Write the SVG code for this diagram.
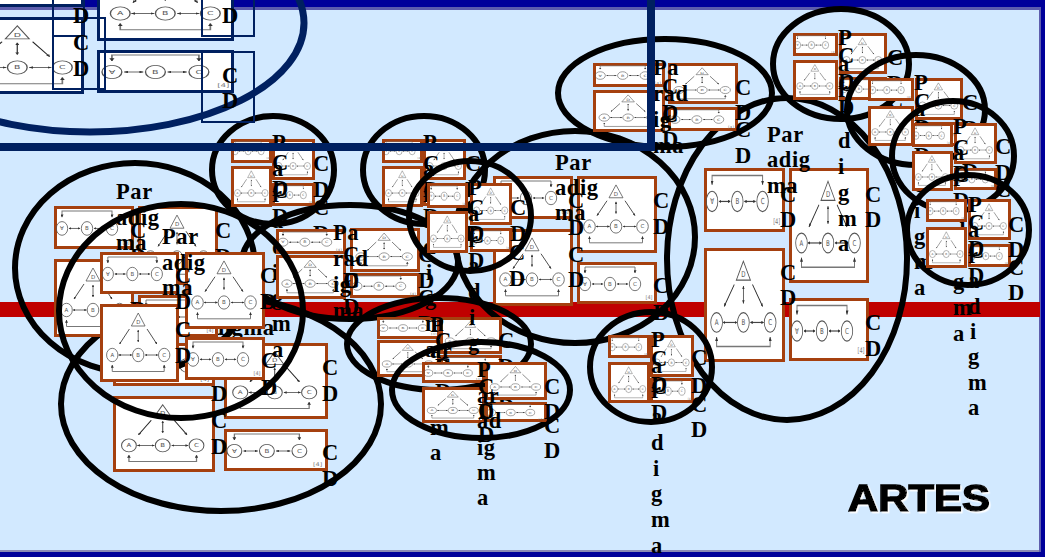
<svg xmlns="http://www.w3.org/2000/svg" width="1045" height="557" viewBox="0 0 1045 557">
<style>
.e{fill:none;stroke:#000;stroke-width:6}
.b{fill:#fff;stroke:#a5400f;stroke-width:3}
.n{fill:#fff;stroke:#002060;stroke-width:3}
.f{fill:none;stroke:#002060;stroke-width:2}
.t{font-family:"Liberation Serif",serif;font-weight:700;font-size:22.5px;letter-spacing:.6px;fill:#000}
.c{fill:none;stroke:#555;stroke-width:.8}
.a{fill:none;stroke:#444;stroke-width:.8;marker-start:url(#h);marker-end:url(#h)}
.o{fill:none;stroke:#222;stroke-width:.8;marker-end:url(#h)}
.g{fill:none;stroke:#777;stroke-width:1;marker-start:url(#h);marker-end:url(#h)}
.l{font-family:"DejaVu Sans",sans-serif;font-size:5.5px;fill:#555;text-anchor:middle}
.q{font-family:"DejaVu Sans",sans-serif;font-size:5px;fill:#777;text-anchor:middle}
.x{font-family:"Liberation Sans",sans-serif;font-weight:700;font-size:36px;fill:#000;stroke:#000;stroke-width:1.4px}
</style>
<defs>
<marker id="h" viewBox="0 0 6 6" refX="5.5" refY="3" markerWidth="3" markerHeight="3" orient="auto-start-reverse"><path d="M0,0L6,3L0,6z" fill="#333"/></marker>
<filter id="w" x="-5%" y="-10%" width="110%" height="125%"><feDropShadow dx="1.5" dy="1.5" stdDeviation="0" flood-color="#fff"/></filter>
<g id="tri">
<polygon class="c" points="39,9 32,22 46,22"/><text class="l" x="39" y="20">D</text>
<ellipse class="c" cx="12.5" cy="51" rx="5.8" ry="6.7"/><text class="l" x="12.5" y="53">A</text>
<ellipse class="c" cx="39" cy="51" rx="5.8" ry="6.7"/><text class="l" x="39" y="53">B</text>
<ellipse class="c" cx="65.5" cy="51" rx="5.8" ry="6.7"/><text class="l" x="65.5" y="53">C</text>
<path class="a" d="M19,51H32.500"/><path class="a" d="M46,51H59"/>
<path class="o" d="M30,25L20,40"/><path class="o" d="M48,25L58,40"/><path class="a" d="M39,26V38"/>
<path class="g" d="M12.500,61V67.500H65.500V61"/>
</g>
<g id="lin">
<ellipse class="c" cx="8" cy="22" rx="5.7" ry="6.7"/><text class="l" x="8" y="24">∀</text>
<ellipse class="c" cx="33" cy="22" rx="5.7" ry="6.7"/><text class="l" x="33" y="24">B</text>
<ellipse class="c" cx="58" cy="22" rx="5.7" ry="6.7"/><text class="l" x="58" y="24">C</text>
<path class="a" d="M15,22H26"/><path class="a" d="M40,22H51"/>
<path class="g" d="M8,11V5H58V11"/>
<text class="q" x="72" y="37">[4]</text>
</g>
</defs>

<rect width="1045" height="557" fill="#d2e9ff"/>
<rect y="7" width="1045" height="3" fill="#5d5dad"/>
<rect y="550" width="1045" height="2" fill="#8a8ab5"/>
<rect x="1039" y="7" width="2" height="545" fill="#5d5dad"/>
<path d="M0,0H1045V557H0V552H1041V7H0Z" fill="#00009a"/>
<rect id="band" x="0" y="302" width="1040" height="15" fill="#c00000"/>

<g id="connectors"></g>

<g id="cluster-3">
<ellipse class="e" cx="221" cy="404" rx="160" ry="107"/>
<text class="t" x="163" y="335">Paradigma</text>
<rect class="b" x="114.500" y="344.500" width="99" height="40"/><use href="#lin" transform="translate(113 343) scale(1.275 1.02)"/>
<rect class="b" x="114.500" y="397.500" width="99" height="73"/><use href="#tri" transform="translate(113 396) scale(1.275 .97)"/>
<rect class="b" x="225.500" y="344.500" width="101" height="73"/><use href="#tri" transform="translate(224 343) scale(1.3 .97)"/>
<rect class="b" x="225.500" y="430.500" width="101" height="39"/><use href="#lin" transform="translate(224 429) scale(1.3 1)"/>
<text class="t" x="211" y="375">C<tspan x="211" dy="26">D</tspan></text>
<text class="t" x="211" y="428">C<tspan x="211" dy="26">D</tspan></text>
<text class="t" x="322" y="375">C<tspan x="322" dy="26">D</tspan></text>
<text class="t" x="322" y="460">C<tspan x="322" dy="26">D</tspan></text>
</g>

<g id="cluster-1">
<ellipse class="e" cx="135" cy="268" rx="120" ry="105"/>
<rect class="b" x="55.500" y="207.500" width="77" height="40"/><use href="#lin" transform="translate(54 206) scale(1 1.02)"/>
<rect class="b" x="55.500" y="260.500" width="77" height="75"/><use href="#tri" transform="translate(54 259)"/>
<rect class="b" x="139.500" y="207.500" width="77" height="76"/><use href="#tri" transform="translate(138 206) scale(1 1.01)"/>
<rect class="b" x="139.500" y="296.500" width="77" height="39"/><use href="#lin" transform="translate(138 295)"/>
<text class="t" x="116" y="199">Par<tspan x="116" dy="26">adig</tspan><tspan x="116" dy="25">ma</tspan></text>
<text class="t" x="130" y="238">C<tspan x="130" dy="26">D</tspan></text>
<text class="t" x="130" y="291">C<tspan x="130" dy="26">D</tspan></text>
<text class="t" x="215" y="238">C<tspan x="215" dy="26">D</tspan></text>
<text class="t" x="215" y="327">C<tspan x="215" dy="26">D</tspan></text>
</g>

<g id="cluster-5">
<ellipse class="e" cx="273" cy="170" rx="61" ry="54"/>
<rect class="b" x="232.500" y="140.500" width="38" height="21"/><use href="#lin" transform="translate(231 139) scale(.52 .55)"/>
<rect class="b" x="232.500" y="167.500" width="38" height="38"/><use href="#tri" transform="translate(231 166) scale(.52 .53)"/>
<rect class="b" x="273.500" y="140.500" width="40" height="38"/><use href="#tri" transform="translate(272 139) scale(.54 .53)"/>
<rect class="b" x="273.500" y="184.500" width="40" height="20"/><use href="#lin" transform="translate(272 183) scale(.54 .55)"/>
<text class="t" x="272" y="150">P<tspan x="272" dy="25.900">a</tspan><tspan x="272" dy="25.900">r</tspan><tspan x="272" dy="25.900">a</tspan><tspan x="272" dy="25.900">d</tspan><tspan x="272" dy="25.900">i</tspan><tspan x="272" dy="25.900">g</tspan><tspan x="272" dy="25.900">m</tspan><tspan x="272" dy="25.900">a</tspan></text>
<text class="t" x="272" y="170">C<tspan x="272" dy="26">D</tspan></text>
<text class="t" x="272" y="198">C<tspan x="272" dy="26">D</tspan></text>
<text class="t" x="313" y="171">C<tspan x="313" dy="26">D</tspan></text>
<text class="t" x="313" y="215">C<tspan x="313" dy="26">D</tspan></text>
</g>

<g id="cluster-4">
<ellipse class="e" cx="350" cy="262" rx="108" ry="57"/>
<rect class="b" x="277.500" y="230.500" width="67" height="22"/><use href="#lin" transform="translate(276 229) scale(.875 .6)"/>
<rect class="b" x="277.500" y="256.500" width="67" height="41"/><use href="#tri" transform="translate(276 255) scale(.875 .56)"/>
<rect class="b" x="351.500" y="229.500" width="67" height="41"/><use href="#tri" transform="translate(350 228) scale(.875 .56)"/>
<rect class="b" x="351.500" y="274.500" width="67" height="22"/><use href="#lin" transform="translate(350 273) scale(.875 .6)"/>
<text class="t" x="333" y="240">Pa<tspan x="333" dy="26">rad</tspan><tspan x="333" dy="26">ig</tspan><tspan x="333" dy="26">ma</tspan></text>
<text class="t" x="343" y="262">C<tspan x="343" dy="26">D</tspan></text>
<text class="t" x="343" y="288">C<tspan x="343" dy="26">D</tspan></text>
<text class="t" x="418" y="262">C<tspan x="418" dy="26">D</tspan></text>
<text class="t" x="418" y="305">C<tspan x="418" dy="26">D</tspan></text>
</g>

<g id="cluster-2">
<ellipse class="e" cx="181" cy="311" rx="122" ry="107"/>
<rect class="b" x="101.500" y="253.500" width="76" height="39"/><use href="#lin" transform="translate(100 252) scale(.98 1)"/>
<rect class="b" x="101.500" y="305.500" width="76" height="75"/><use href="#tri" transform="translate(100 304) scale(.98 1)"/>
<rect class="b" x="186.500" y="253.500" width="77" height="74"/><use href="#tri" transform="translate(185 252) scale(1 .99)"/>
<rect class="b" x="186.500" y="338.500" width="77" height="40"/><use href="#lin" transform="translate(185 337) scale(1 1.02)"/>
<text class="t" x="162" y="244">Par<tspan x="162" dy="26">adig</tspan><tspan x="162" dy="25">ma</tspan></text>
<text class="t" x="175" y="283">C<tspan x="175" dy="26">D</tspan></text>
<text class="t" x="175" y="337">C<tspan x="175" dy="26">D</tspan></text>
<text class="t" x="260" y="283">C<tspan x="260" dy="26">D</tspan></text>
<text class="t" x="261" y="368">C<tspan x="261" dy="27">D</tspan></text>
</g>

<g id="cluster-12">
<ellipse class="e" cx="787" cy="259" rx="120" ry="161"/>
<rect class="b" x="705.500" y="169.500" width="78" height="61"/><use href="#lin" transform="translate(704 168) scale(1.01 1.52)"/>
<rect class="b" x="705.500" y="249.500" width="78" height="111"/><use href="#tri" transform="translate(704 248) scale(1.01 1.46)"/>
<rect class="b" x="790.500" y="169.500" width="77" height="112"/><use href="#tri" transform="translate(789 168) scale(1 1.47)"/>
<rect class="b" x="790.500" y="299.500" width="77" height="60"/><use href="#lin" transform="translate(789 298) scale(1 1.5)"/>
<text class="t" x="767" y="142">Par<tspan x="767" dy="25">adig</tspan><tspan x="767" dy="26">ma</tspan></text>
<text class="t" x="780" y="202">C<tspan x="780" dy="25">D</tspan></text>
<text class="t" x="780" y="280">C<tspan x="780" dy="25">D</tspan></text>
<text class="t" x="865" y="202">C<tspan x="865" dy="25">D</tspan></text>
<text class="t" x="865" y="330">C<tspan x="865" dy="26">D</tspan></text>
</g>

<g id="cluster-10">
<ellipse class="e" cx="575" cy="237" rx="120" ry="106"/>
<rect class="b" x="494.500" y="177.500" width="77" height="40"/><use href="#lin" transform="translate(493 176) scale(1 1)"/>
<rect class="b" x="494.500" y="230.500" width="77" height="74"/><use href="#tri" transform="translate(493 229) scale(1 .99)"/>
<rect class="b" x="578.500" y="177.500" width="77" height="74"/><use href="#tri" transform="translate(577 176) scale(1 .99)"/>
<rect class="b" x="578.500" y="263.500" width="77" height="39"/><use href="#lin" transform="translate(577 262)"/>
<text class="t" x="555" y="170">Par<tspan x="555" dy="25">adig</tspan><tspan x="555" dy="25">ma</tspan></text>
<text class="t" x="568" y="208">C<tspan x="568" dy="27">D</tspan></text>
<text class="t" x="568" y="262">C<tspan x="568" dy="25">D</tspan></text>
<text class="t" x="653" y="208">C<tspan x="653" dy="26">D</tspan></text>
<text class="t" x="653" y="293">C<tspan x="653" dy="27">D</tspan></text>
</g>

<g id="cluster-11">
<ellipse class="e" cx="665" cy="93" rx="107" ry="54"/>
<rect class="b" x="594.500" y="64.500" width="69" height="21"/><use href="#lin" transform="translate(593 63) scale(.9 .57)"/>
<rect class="b" x="594.500" y="91.500" width="69" height="39"/><use href="#tri" transform="translate(593 90) scale(.9 .54)"/>
<rect class="b" x="669.500" y="64.500" width="67" height="38"/><use href="#tri" transform="translate(668 63) scale(.875 .53)"/>
<rect class="b" x="669.500" y="108.500" width="67" height="21"/><use href="#lin" transform="translate(668 107) scale(.875 .57)"/>
<text class="t" x="653" y="75">Pa<tspan x="653" dy="26">rad</tspan><tspan x="653" dy="26">ig</tspan><tspan x="653" dy="26">ma</tspan></text>
<text class="t" x="662" y="94">C<tspan x="662" dy="26">D</tspan></text>
<text class="t" x="662" y="122">C<tspan x="662" dy="25">D</tspan></text>
<text class="t" x="735" y="95">C<tspan x="735" dy="25">D</tspan></text>
<text class="t" x="735" y="137">C<tspan x="735" dy="26">D</tspan></text>
</g>

<g id="cluster-8">
<ellipse class="e" cx="439" cy="344" rx="92" ry="46"/>
<rect class="b" x="378.500" y="318.500" width="60" height="19"/><use href="#lin" transform="translate(377 317) scale(.79 .5)"/>
<rect class="b" x="378.500" y="341.500" width="60" height="34"/><use href="#tri" transform="translate(377 340) scale(.79 .47)"/>
<rect class="b" x="441.500" y="318.500" width="59" height="34"/><use href="#tri" transform="translate(440 317) scale(.78 .47)"/>
<rect class="b" x="441.500" y="356.500" width="59" height="19"/><use href="#lin" transform="translate(440 355) scale(.78 .5)"/>
<text class="t" x="430" y="332">P<tspan x="430" dy="26">ar</tspan><tspan x="430" dy="25">ad</tspan><tspan x="430" dy="27">ig</tspan><tspan x="430" dy="25">m</tspan><tspan x="430" dy="25">a</tspan></text>
<text class="t" x="435" y="348">C<tspan x="435" dy="26">D</tspan></text>
<text class="t" x="435" y="373">C<tspan x="435" dy="26">D</tspan></text>
<text class="t" x="498" y="348">C<tspan x="498" dy="26">D</tspan></text>
<text class="t" x="498" y="388">C<tspan x="498" dy="26">D</tspan></text>
</g>

<g id="cluster-6">
<ellipse class="e" cx="424" cy="170" rx="61" ry="54"/>
<rect class="b" x="383.500" y="140.500" width="38" height="21"/><use href="#lin" transform="translate(382 139) scale(.52 .55)"/>
<rect class="b" x="383.500" y="167.500" width="38" height="38"/><use href="#tri" transform="translate(382 166) scale(.52 .53)"/>
<rect class="b" x="424.500" y="140.500" width="40" height="38"/><use href="#tri" transform="translate(423 139) scale(.54 .53)"/>
<rect class="b" x="424.500" y="184.500" width="40" height="20"/><use href="#lin" transform="translate(423 183) scale(.54 .55)"/>
<text class="t" x="423" y="150">P<tspan x="423" dy="25.900">a</tspan><tspan x="423" dy="25.900">r</tspan><tspan x="423" dy="25.900">a</tspan><tspan x="423" dy="25.900">d</tspan><tspan x="426" dy="25.900">i</tspan><tspan x="425" dy="25.900">g</tspan><tspan x="425" dy="25.900">m</tspan><tspan x="425" dy="25.900">a</tspan></text>
<text class="t" x="423" y="171">C<tspan x="423" dy="26">D</tspan></text>
<text class="t" x="423" y="198">C<tspan x="423" dy="26">D</tspan></text>
<text class="t" x="465" y="171">C<tspan x="465" dy="26">D</tspan></text>
<text class="t" x="465" y="215">C<tspan x="465" dy="26">D</tspan></text>
</g>

<g id="cluster-7">
<ellipse class="e" cx="470" cy="216" rx="61" ry="55"/>
<rect class="b" x="428.500" y="184.500" width="38" height="22"/><use href="#lin" transform="translate(427 183) scale(.52 .6)"/>
<rect class="b" x="428.500" y="212.500" width="38" height="39"/><use href="#tri" transform="translate(427 211) scale(.52 .54)"/>
<rect class="b" x="471.500" y="184.500" width="39" height="39"/><use href="#tri" transform="translate(470 183) scale(.53 .54)"/>
<rect class="b" x="471.500" y="229.500" width="39" height="21"/><use href="#lin" transform="translate(470 228) scale(.53 .57)"/>
<text class="t" x="468" y="195">P<tspan x="468" dy="25.900">a</tspan><tspan x="468" dy="25.900">r</tspan><tspan x="468" dy="25.900">a</tspan><tspan x="468" dy="25.900">d</tspan><tspan x="469" dy="25.900">i</tspan><tspan x="468" dy="25.900">g</tspan><tspan x="468" dy="25.900">m</tspan><tspan x="468" dy="25.900">a</tspan></text>
<text class="t" x="468" y="215">C<tspan x="468" dy="26">D</tspan></text>
<text class="t" x="468" y="243">C<tspan x="468" dy="25">D</tspan></text>
<text class="t" x="510" y="215">C<tspan x="510" dy="26">D</tspan></text>
<text class="t" x="509" y="260">C<tspan x="509" dy="26">D</tspan></text>
</g>

<g id="cluster-9">
<ellipse class="e" cx="481" cy="390" rx="89" ry="48"/>
<rect class="b" x="423.500" y="363.500" width="60" height="18"/><use href="#lin" transform="translate(422 362) scale(.79 .5)"/>
<rect class="b" x="423.500" y="388.500" width="60" height="33"/><use href="#tri" transform="translate(422 387) scale(.79 .46)"/>
<rect class="b" x="486.500" y="363.500" width="59" height="35"/><use href="#tri" transform="translate(485 362) scale(.78 .49)"/>
<rect class="b" x="486.500" y="403.500" width="59" height="17"/><use href="#lin" transform="translate(485 402) scale(.78 .48)"/>
<text class="t" x="477" y="377">P<tspan x="477" dy="26">ar</tspan><tspan x="477" dy="25">ad</tspan><tspan x="477" dy="27">ig</tspan><tspan x="477" dy="25">m</tspan><tspan x="477" dy="25">a</tspan></text>
<text class="t" x="478" y="394">C<tspan x="478" dy="25">D</tspan></text>
<text class="t" x="478" y="418">C<tspan x="478" dy="24">D</tspan></text>
<text class="t" x="544" y="394">C<tspan x="544" dy="25">D</tspan></text>
<text class="t" x="544" y="433">C<tspan x="544" dy="25">D</tspan></text>
</g>

<g id="cluster-17">
<ellipse class="e" cx="651" cy="367" rx="61" ry="55"/>
<rect class="b" x="609.500" y="336.500" width="39" height="20"/><use href="#lin" transform="translate(608 335) scale(.53 .55)"/>
<rect class="b" x="609.500" y="363.500" width="39" height="38"/><use href="#tri" transform="translate(608 362) scale(.53 .53)"/>
<rect class="b" x="651.500" y="336.500" width="41" height="39"/><use href="#tri" transform="translate(650 335) scale(.55 .54)"/>
<rect class="b" x="651.500" y="379.500" width="41" height="22"/><use href="#lin" transform="translate(650 378) scale(.55 .6)"/>
<text class="t" x="651" y="347">P<tspan x="651" dy="25.700">a</tspan><tspan x="651" dy="25.700">r</tspan><tspan x="651" dy="25.700">a</tspan><tspan x="651" dy="25.700">d</tspan><tspan x="653" dy="25.700">i</tspan><tspan x="651" dy="25.700">g</tspan><tspan x="651" dy="25.700">m</tspan><tspan x="651" dy="25.700">a</tspan></text>
<text class="t" x="651" y="366">C<tspan x="651" dy="26">D</tspan></text>
<text class="t" x="651" y="394">C<tspan x="651" dy="26">D</tspan></text>
<text class="t" x="691" y="365">C<tspan x="691" dy="28">D</tspan></text>
<text class="t" x="691" y="412">C<tspan x="691" dy="25">D</tspan></text>
</g>

<g id="cluster-13">
<ellipse class="e" cx="841" cy="64" rx="68" ry="55"/>
<rect class="b" x="794.500" y="34.500" width="42" height="20"/><use href="#lin" transform="translate(793 33) scale(.56 .55)"/>
<rect class="b" x="794.500" y="61.500" width="42" height="37"/><use href="#tri" transform="translate(793 60) scale(.56 .51)"/>
<rect class="b" x="840.500" y="34.500" width="45" height="38"/><use href="#tri" transform="translate(839 33) scale(.6 .53)"/>
<rect class="b" x="840.500" y="78.500" width="45" height="20"/><use href="#lin" transform="translate(839 77) scale(.6 .55)"/>
<text class="t" x="838" y="45">P<tspan x="838" dy="25.800">a</tspan><tspan x="838" dy="25.800">r</tspan><tspan x="838" dy="25.800">a</tspan><tspan x="838" dy="25.800">d</tspan><tspan x="838" dy="25.800">i</tspan><tspan x="838" dy="25.800">g</tspan><tspan x="838" dy="25.800">m</tspan><tspan x="838" dy="25.800">a</tspan></text>
<text class="t" x="838" y="63">C<tspan x="838" dy="26">D</tspan></text>
<text class="t" x="838" y="91">C<tspan x="838" dy="24">D</tspan></text>
<text class="t" x="887" y="65">C<tspan x="887" dy="26">D</tspan></text>
<text class="t" x="887" y="108">C<tspan x="887" dy="26">D</tspan></text>
</g>

<g id="cluster-14">
<ellipse class="e" cx="916" cy="110" rx="69" ry="55"/>
<rect class="b" x="869.500" y="79.500" width="43" height="20"/><use href="#lin" transform="translate(868 78) scale(.57 .55)"/>
<rect class="b" x="869.500" y="107.500" width="43" height="37"/><use href="#tri" transform="translate(868 106) scale(.57 .51)"/>
<rect class="b" x="916.500" y="79.500" width="45" height="39"/><use href="#tri" transform="translate(915 78) scale(.6 .54)"/>
<rect class="b" x="916.500" y="123.500" width="45" height="21"/><use href="#lin" transform="translate(915 122) scale(.6 .57)"/>
<text class="t" x="914" y="90">P<tspan x="914" dy="25.600">a</tspan><tspan x="914" dy="25.600">r</tspan><tspan x="914" dy="25.600">a</tspan><tspan x="914" dy="25.600">d</tspan><tspan x="914" dy="25.600">i</tspan><tspan x="914" dy="25.600">g</tspan><tspan x="914" dy="25.600">m</tspan><tspan x="914" dy="25.600">a</tspan></text>
<text class="t" x="914" y="109">C<tspan x="914" dy="26">D</tspan></text>
<text class="t" x="914" y="137">C<tspan x="914" dy="26">D</tspan></text>
<text class="t" x="962" y="110">C<tspan x="962" dy="26">D</tspan></text>
<text class="t" x="962" y="153">C<tspan x="962" dy="26">D</tspan></text>
</g>

<g id="cluster-15">
<ellipse class="e" cx="953" cy="156" rx="61" ry="55"/>
<rect class="b" x="913.500" y="124.500" width="38" height="21"/><use href="#lin" transform="translate(912 123) scale(.51 .57)"/>
<rect class="b" x="913.500" y="152.500" width="38" height="37"/><use href="#tri" transform="translate(912 151) scale(.51 .51)"/>
<rect class="b" x="955.500" y="124.500" width="40" height="38"/><use href="#tri" transform="translate(954 123) scale(.54 .53)"/>
<rect class="b" x="955.500" y="169.500" width="40" height="19"/><use href="#lin" transform="translate(954 168) scale(.54 .52)"/>
<text class="t" x="953" y="134">P<tspan x="953" dy="25.900">a</tspan><tspan x="953" dy="25.900">r</tspan><tspan x="953" dy="25.900">a</tspan><tspan x="953" dy="25.900">d</tspan><tspan x="953" dy="25.900">i</tspan><tspan x="953" dy="25.900">g</tspan><tspan x="953" dy="25.900">m</tspan><tspan x="953" dy="25.900">a</tspan></text>
<text class="t" x="953" y="155">C<tspan x="953" dy="26">D</tspan></text>
<text class="t" x="953" y="182">C<tspan x="953" dy="26">D</tspan></text>
<text class="t" x="995" y="154">C<tspan x="995" dy="26">D</tspan></text>
<text class="t" x="995" y="197">C<tspan x="995" dy="27">D</tspan></text>
</g>

<g id="cluster-16">
<ellipse class="e" cx="968" cy="230" rx="61" ry="55"/>
<rect class="b" x="927.500" y="200.500" width="38" height="20"/><use href="#lin" transform="translate(926 199) scale(.52 .55)"/>
<rect class="b" x="927.500" y="228.500" width="38" height="38"/><use href="#tri" transform="translate(926 227) scale(.52 .53)"/>
<rect class="b" x="969.500" y="200.500" width="40" height="38"/><use href="#tri" transform="translate(968 199) scale(.54 .53)"/>
<rect class="b" x="969.500" y="245.500" width="40" height="20"/><use href="#lin" transform="translate(968 244) scale(.54 .55)"/>
<text class="t" x="968" y="212">P<tspan x="968" dy="25.400">a</tspan><tspan x="968" dy="25.400">r</tspan><tspan x="968" dy="25.400">a</tspan><tspan x="968" dy="25.400">d</tspan><tspan x="970" dy="25.400">i</tspan><tspan x="968" dy="25.400">g</tspan><tspan x="968" dy="25.400">m</tspan><tspan x="968" dy="25.400">a</tspan></text>
<text class="t" x="968" y="230">C<tspan x="968" dy="26">D</tspan></text>
<text class="t" x="968" y="258">C<tspan x="968" dy="25">D</tspan></text>
<text class="t" x="1008" y="232">C<tspan x="1008" dy="25">D</tspan></text>
<text class="t" x="1008" y="275">C<tspan x="1008" dy="25">D</tspan></text>
</g>

<g id="cluster-navy">
<rect class="n" x="-51.500" y="-34.500" width="134" height="40"/>
<rect class="n" x="-51.500" y="18.500" width="134" height="74"/><use href="#tri" transform="translate(-49 17) scale(1.7 .99)"/>
<rect class="n" x="98.500" y="-35.500" width="134" height="75"/><use href="#tri" transform="translate(99 -37) scale(1.7 .99)"/>
<rect class="n" x="98.500" y="51.500" width="134" height="40"/><use href="#lin" transform="translate(98 50) scale(1.74 1)"/>
<rect class="f" x="53" y="-20" width="31" height="56"/>
<rect class="f" x="53" y="18" width="52" height="71"/>
<rect class="f" x="202" y="-20" width="52" height="56"/>
<rect class="f" x="202" y="52" width="52" height="70"/>
<ellipse cx="90" cy="23" rx="214" ry="109" fill="none" stroke="#002060" stroke-width="7"/>
<text class="t" x="73" y="23">D</text>
<text class="t" x="73" y="50">C<tspan x="73" dy="26">D</tspan></text>
<text class="t" x="222" y="23">D</text>
<text class="t" x="222" y="83">C<tspan x="222" dy="25">D</tspan></text>
<path d="M0,147H651V0" fill="none" stroke="#002060" stroke-width="8"/>
</g>

<text id="title" class="x" x="848" y="511" textLength="142" lengthAdjust="spacingAndGlyphs" filter="url(#w)">ARTES</text>
</svg>
